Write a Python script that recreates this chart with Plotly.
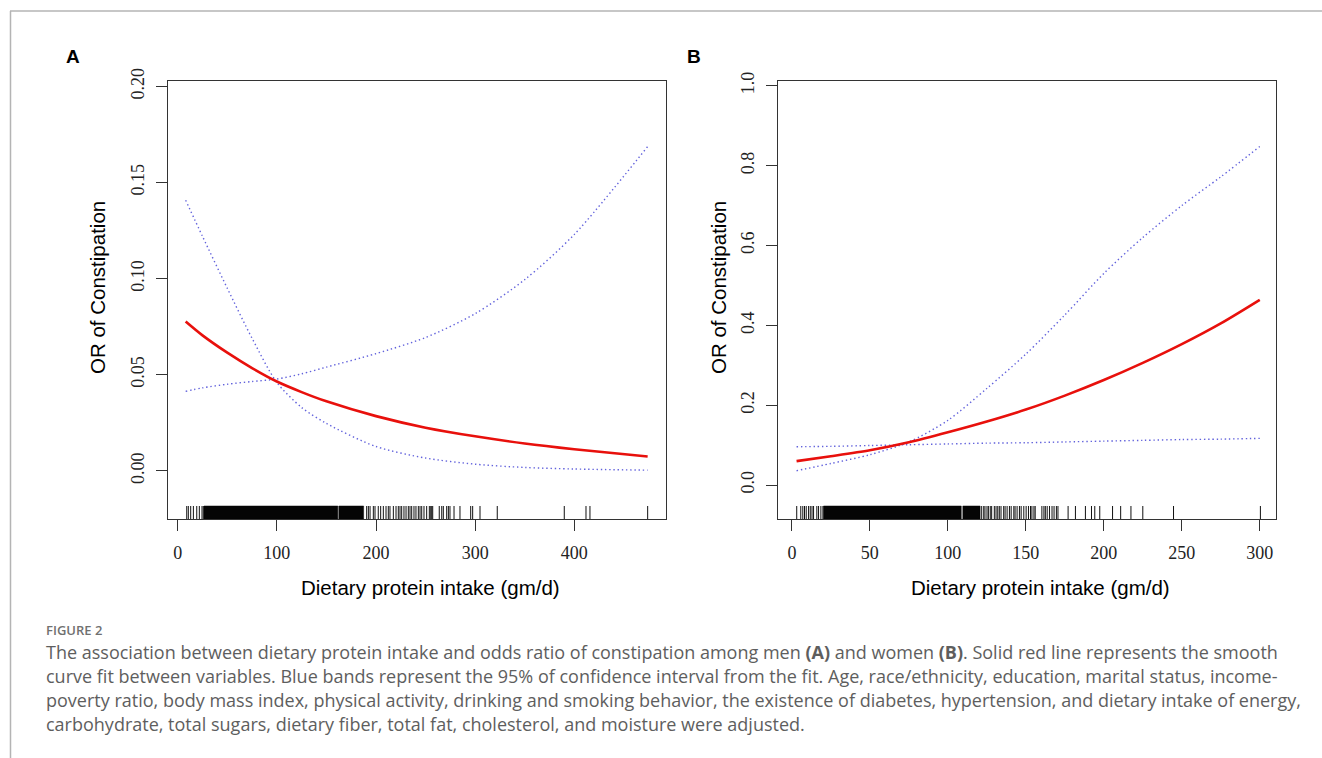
import plotly.graph_objects as go

W, H = 1322, 758

# ---------------- Panel A (men) ----------------
xA = [8, 25, 50, 75, 100, 125, 150, 200, 250, 300, 350, 400, 474]
fitA = [0.0777, 0.0705, 0.0615, 0.0535, 0.0465, 0.041, 0.0362, 0.0285, 0.0225, 0.018, 0.0143, 0.0113, 0.0075]
upA = [0.0414, 0.0432, 0.0451, 0.0465, 0.0478, 0.0505, 0.054, 0.061, 0.0694, 0.0818, 0.0995, 0.123, 0.1687]
loA = [0.1408, 0.122, 0.095, 0.069, 0.046, 0.033, 0.0247, 0.0127, 0.0067, 0.0035, 0.0018, 0.0010, 0.0004]

rugA_sparse = [9.1, 10.7, 13.1, 15.8, 19.2, 21.8, 24.5, 25.8,
               190.6, 192.3, 194, 197.3, 199, 202.3, 204.7, 207.4, 210.1, 212.4, 214.1,
               217.5, 220.2, 222.5, 224.2, 225.9, 228.2, 230.3, 232.6, 234.3, 236, 238.3,
               240.3, 242.7, 244.4, 246.1, 248.4, 251.1, 253.8, 255.2, 256.2, 257.2, 263.8,
               266.3, 267.9, 271.3, 273, 274.6, 278.7, 284.7, 295.5, 297.5, 304.9, 322.3,
               389.9, 411.8, 415.8, 474]
rugA_dense = [(26.5, 161.5), (162.5, 187.5)]

# ---------------- Panel B (women) ----------------
xB = [3, 25, 50, 75, 100, 125, 150, 175, 200, 225, 250, 275, 300]
fitB = [0.060, 0.072, 0.087, 0.107, 0.132, 0.159, 0.189, 0.224, 0.263, 0.306, 0.353, 0.405, 0.464]
upB = [0.036, 0.054, 0.076, 0.108, 0.162, 0.242, 0.328, 0.426, 0.530, 0.620, 0.700, 0.772, 0.848]
loB = [0.096, 0.097, 0.099, 0.101, 0.103, 0.105, 0.106, 0.108, 0.110, 0.112, 0.114, 0.115, 0.117]

rugB_sparse = [3.1, 5.7, 7, 8.1, 9.2, 10.7, 11.8, 12.9, 13.9, 16.0, 17.1, 18.6, 19.9,
               121.7, 123, 123.8, 125.1, 126, 127.2, 128.1, 129.8, 130.9, 132, 133, 134.1,
               135.8, 136.7, 138, 139.5, 140.6, 142.3, 143.1, 144.4, 145.9, 147, 148.7,
               150.2, 151.7, 153, 153.9, 155.2, 156, 160.3, 161.6, 162.5, 163.7, 165.2,
               166.8, 168.1, 169.6, 170.6, 177.1, 181.8, 188.2, 192.1, 194.2, 197.4, 205.6,
               210.8, 217.4, 225, 244.7, 300.4]
rugB_dense = [(20.3, 108.6), (109.6, 120.7)]

xticksA = [0, 100, 200, 300, 400]
yticksA = [0.00, 0.05, 0.10, 0.15, 0.20]
yticklabA = ["0.00", "0.05", "0.10", "0.15", "0.20"]
xticksB = [0, 50, 100, 150, 200, 250, 300]
yticksB = [0.0, 0.2, 0.4, 0.6, 0.8, 1.0]
yticklabB = ["0.0", "0.2", "0.4", "0.6", "0.8", "1.0"]

x_title = "Dietary protein intake (gm/d)"
y_title = "OR of Constipation"
caption_head = "FIGURE 2"
caption_lines = [
    "The association between dietary protein intake and odds ratio of constipation among men <b>(A)</b> and women <b>(B)</b>. Solid red line represents the smooth",
    "curve fit between variables. Blue bands represent the 95% of confidence interval from the fit. Age, race/ethnicity, education, marital status, income-",
    "poverty ratio, body mass index, physical activity, drinking and smoking behavior, the existence of diabetes, hypertension, and dietary intake of energy,",
    "carbohydrate, total sugars, dietary fiber, total fat, cholesterol, and moisture were adjusted.",
]

# ---------------- geometry (pixels) ----------------
frameA = (168, 666, 81, 519)
frameB = (778, 1276, 81, 519)
xrangeA = [-9.8, 492.5]
yrangeA = [-0.025, 0.2028]
xrangeB = [-8.9, 310.4]
yrangeB = [-0.085, 1.012]
RUG_PX = 13

RED = "#e8100c"
BLUE = "#6262dc"
AX = "#333333"


def px(x):
    return x / W


def py(y):
    return 1 - y / H


fig = go.Figure()


def add_panel(xs, fit, up, lo, rug_sparse, rug_dense, xa, ya, yr, frame):
    yspan = yr[1] - yr[0]
    rug_h = yspan * RUG_PX / (frame[3] - frame[2])
    y0 = yr[0]
    y1 = yr[0] + rug_h
    rx, ry = [], []
    for v in rug_sparse:
        rx += [v, v, None]
        ry += [y0, y1, None]
    fig.add_trace(go.Scatter(x=rx, y=ry, mode="lines", line=dict(color="#111111", width=1),
                             xaxis=xa, yaxis=ya, hoverinfo="skip", showlegend=False))
    for a, b in rug_dense:
        fig.add_trace(go.Scatter(x=[a, b, b, a, a], y=[y0, y0, y1, y1, y0], mode="lines",
                                 fill="toself", fillcolor="#050505",
                                 line=dict(color="#050505", width=0.5),
                                 xaxis=xa, yaxis=ya, hoverinfo="skip", showlegend=False))
    for band in (up, lo):
        fig.add_trace(go.Scatter(x=xs, y=band, mode="lines", line_shape="spline",
                                 line=dict(color=BLUE, width=1.4, dash="1.4px,2.8px", smoothing=0.8),
                                 xaxis=xa, yaxis=ya, showlegend=False))
    fig.add_trace(go.Scatter(x=xs, y=fit, mode="lines", line_shape="spline",
                             line=dict(color=RED, width=2.6, smoothing=0.8),
                             xaxis=xa, yaxis=ya, showlegend=False))


add_panel(xA, fitA, upA, loA, rugA_sparse, rugA_dense, "x", "y", yrangeA, frameA)
add_panel(xB, fitB, upB, loB, rugB_sparse, rugB_dense, "x2", "y2", yrangeB, frameB)

tickfont = dict(family="Liberation Serif, Times New Roman, serif", size=18, color="#222222")
common_x = dict(showgrid=False, zeroline=False, showline=True, mirror=True, linecolor=AX,
                linewidth=1.3, ticks="outside", ticklen=11, tickwidth=1.3, tickcolor=AX,
                tickfont=tickfont, ticklabelstandoff=6, automargin=False)
common_y = dict(showgrid=False, zeroline=False, showline=True, mirror=True, linecolor=AX,
                linewidth=1.3, ticks="outside", ticklen=11, tickwidth=1.3, tickcolor=AX,
                tickfont=tickfont, tickangle=-90, ticklabelstandoff=5, automargin=False)

fig.update_layout(
    width=W, height=H, margin=dict(l=0, r=0, t=0, b=0, pad=0, autoexpand=False),
    paper_bgcolor="white", plot_bgcolor="white", showlegend=False,
    xaxis=dict(domain=[px(frameA[0]), px(frameA[1])], range=xrangeA,
               tickvals=xticksA, ticktext=[str(v) for v in xticksA], anchor="y", **common_x),
    yaxis=dict(domain=[py(frameA[3]), py(frameA[2])], range=yrangeA,
               tickvals=yticksA, ticktext=yticklabA, anchor="x", **common_y),
    xaxis2=dict(domain=[px(frameB[0]), px(frameB[1])], range=xrangeB,
                tickvals=xticksB, ticktext=[str(v) for v in xticksB], anchor="y2", **common_x),
    yaxis2=dict(domain=[py(frameB[3]), py(frameB[2])], range=yrangeB,
                tickvals=yticksB, ticktext=yticklabB, anchor="x2", **common_y),
)

sans = "Liberation Sans, Arial, sans-serif"
ann = []


def note(text, x, y, size, family=sans, color="black", xanchor="center", angle=0, weight=None):
    f = dict(family=family, size=size, color=color)
    if weight:
        f["weight"] = weight
    ann.append(dict(text=text, x=px(x), y=py(y), xref="paper", yref="paper",
                    xanchor=xanchor, yanchor="middle", textangle=angle,
                    showarrow=False, font=f))


for lab, xc in (("A", 73), ("B", 694)):
    note(f"<b>{lab}</b>", xc, 56, 19)
for xc in (430, 1040):
    note(x_title, xc, 587, 20.5)
for xc in (97, 718):
    note(y_title, xc, 288, 20.5, angle=-90)

capfont = "Open Sans, Noto Sans, sans-serif"
note(caption_head, 44, 630, 13, family=capfont, color="#707070", xanchor="left", weight=600)
for i, line in enumerate(caption_lines):
    note(line, 44, 652 + 24 * i, 18, family=capfont, color="#5e5e5e", xanchor="left")
fig.update_layout(annotations=ann)

fig.add_shape(type="line", xref="paper", yref="paper", x0=px(10), x1=1, y0=py(11), y1=py(11),
              line=dict(color="#b4b4b4", width=1.5))
fig.add_shape(type="line", xref="paper", yref="paper", x0=px(10.5), x1=px(10.5), y0=py(11), y1=0,
              line=dict(color="#b4b4b4", width=1.5))

fig.write_html("out.html", config={"displayModeBar": False},
               post_script="document.body.style.margin='0';document.body.style.overflow='hidden';")
